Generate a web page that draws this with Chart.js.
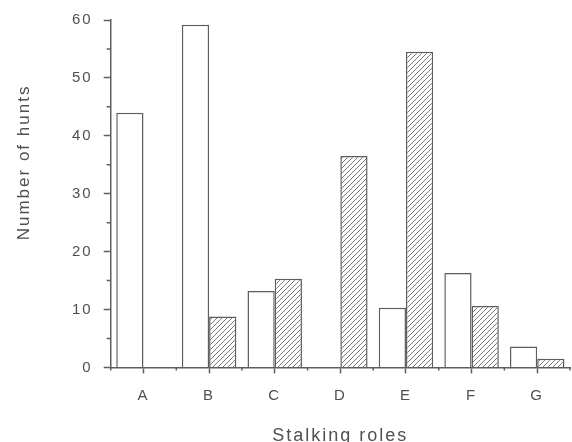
<!DOCTYPE html>
<html>
<head>
<meta charset="utf-8">
<script src="https://cdn.jsdelivr.net/npm/chart.js@4/dist/chart.umd.min.js"></script>
<style>
  html, body { margin: 0; padding: 0; background: #fff; }
  #grafico { display: block; }
</style>
</head>
<body>
<canvas id="grafico" width="572" height="442"></canvas>
<script>
// Papéis de perseguição (eixo x) e número de caçadas
var roles = ['A', 'B', 'C', 'D', 'E', 'F', 'G'];
var openBars = [44, 59.2, 13.2, 0, 10.3, 16.3, 3.6];
var hatchedBars = [0, 8.8, 15.3, 36.5, 54.5, 10.6, 1.5];
var yTicks = [0, 10, 20, 30, 40, 50, 60];
var yTitulo = 'Number of hunts';

var corLinha = '#5e5e5e';
var corTexto = '#505050';

// padrão tracejado diagonal para a 2ª série
var hatch = function() {
    var c = document.createElement('canvas');
    c.width = 5; c.height = 5;
    var g = c.getContext('2d');
    g.fillStyle = '#ffffff';
    g.fillRect(0, 0, 5, 5);
    g.strokeStyle = '#7a7a7a';
    g.lineWidth = 1;
    g.beginPath();
    g.moveTo(0, 5); g.lineTo(5, 0);
    g.moveTo(-1, 1); g.lineTo(1, -1);
    g.moveTo(4, 6); g.lineTo(6, 4);
    g.stroke();
    return g.createPattern(c, 'repeat');
};

// espaçamento das letras, como no original
var letras = {
    id: 'letras',
    beforeDraw: function(chart) {
        chart.ctx.letterSpacing = '2px';
    }
};

// título do eixo y (um pouco acima do centro, como no original)
var tituloY = {
    id: 'tituloY',
    afterDraw: function(chart) {
        var ctx = chart.ctx, a = chart.chartArea;
        ctx.save();
        ctx.letterSpacing = '2px';
        ctx.fillStyle = corTexto;
        ctx.font = '17px "Liberation Sans"';
        ctx.textAlign = 'center';
        ctx.textBaseline = 'middle';
        ctx.translate(24, a.top + (a.bottom - a.top) * 0.41);
        ctx.rotate(-Math.PI / 2);
        ctx.fillText(yTitulo, 0, 0);
        ctx.restore();
    }
};

// marcas menores nos eixos (5 em 5 no y, limites das categorias no x)
var marcasMenores = {
    id: 'marcasMenores',
    afterDraw: function(chart) {
        var ctx = chart.ctx, x = chart.scales.x, y = chart.scales.y;
        ctx.save();
        ctx.strokeStyle = corLinha;
        ctx.lineWidth = 1.5;
        ctx.beginPath();
        for (var v = 5; v < 60; v += 10) {
            var py = y.getPixelForValue(v);
            ctx.moveTo(x.left - 4, py);
            ctx.lineTo(x.left, py);
        }
        var half = (x.getPixelForValue(1) - x.getPixelForValue(0)) / 2;
        for (var i = 0; i <= roles.length; i++) {
            var px = x.getPixelForValue(i) - half;
            ctx.moveTo(px, y.bottom);
            ctx.lineTo(px, y.bottom + 3);
        }
        ctx.stroke();
        ctx.restore();
    }
};

var ctx1 = document.getElementById('grafico').getContext('2d');
var myChart = new Chart(ctx1, {
    type: 'bar',
    data: {
        labels: roles,
        datasets: [
            {
                label: 'open',
                data: openBars,
                backgroundColor: '#ffffff',
                borderColor: corLinha,
                borderWidth: 1.5,
                borderSkipped: 'start'
            },
            {
                label: 'hatched',
                data: hatchedBars,
                backgroundColor: hatch(),
                borderColor: corLinha,
                borderWidth: 1.5,
                borderSkipped: 'start'
            }
        ]
    },
    options: {
        responsive: false,
        animation: false,
        events: [],
        layout: { padding: { left: 65, right: 2, top: 16, bottom: -5 } },
        plugins: {
            legend: { display: false },
            tooltip: { enabled: false }
        },
        datasets: {
            bar: { categoryPercentage: 0.83, barPercentage: 1 }
        },
        scales: {
            x: {
                grid: {
                    offset: false,
                    drawOnChartArea: false,
                    tickLength: 6,
                    tickColor: corLinha,
                    tickWidth: 1.5
                },
                border: { color: corLinha, width: 1.5 },
                ticks: {
                    color: corTexto,
                    padding: 13,
                    font: { family: 'Liberation Sans', size: 15 }
                },
                title: {
                    display: true,
                    text: 'Stalking roles',
                    color: corTexto,
                    padding: { top: 8, bottom: 0 },
                    font: { family: 'Liberation Sans', size: 18 }
                }
            },
            y: {
                min: 0,
                max: 60,
                afterBuildTicks: function(scale) {
                    scale.ticks = yTicks.map(function(v) { return { value: v }; });
                },
                grid: {
                    drawOnChartArea: false,
                    tickLength: 7,
                    tickColor: corLinha,
                    tickWidth: 1.5
                },
                border: { color: corLinha, width: 1.5 },
                ticks: {
                    color: corTexto,
                    padding: 11,
                    font: { family: 'Liberation Sans', size: 15 }
                }
            }
        }
    },
    plugins: [letras, tituloY, marcasMenores]
});
</script>
</body>
</html>
